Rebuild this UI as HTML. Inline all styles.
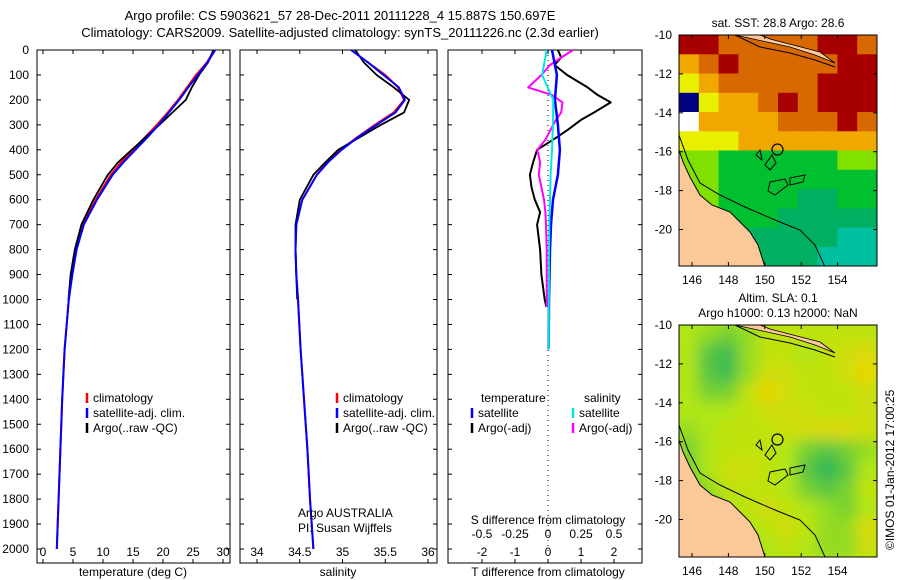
<!DOCTYPE html>
<html><head><meta charset="utf-8"><style>
html,body{margin:0;padding:0;background:#fff;}
svg{display:block;font-family:"Liberation Sans",sans-serif;}
</style></head><body>
<svg id="fig" width="900" height="580" viewBox="0 0 900 580" xmlns="http://www.w3.org/2000/svg">
<defs>
<clipPath id="clipTop"><rect x="679" y="35" width="198" height="231"/></clipPath>
<clipPath id="clipBot"><rect x="679" y="325" width="198" height="232"/></clipPath>
<filter id="blur" x="-5%" y="-5%" width="110%" height="110%"><feGaussianBlur stdDeviation="7"/></filter>
</defs>
<text x="340" y="20" font-size="13" text-anchor="middle">Argo profile: CS 5903621_57 28-Dec-2011 20111228_4 15.887S 150.697E</text>
<text x="340" y="37" font-size="13" text-anchor="middle">Climatology: CARS2009. Satellite-adjusted climatology: synTS_20111226.nc (2.3d earlier)</text>
<g id="g1"></g>
<g id="g2"></g>
<g id="g3"></g>
<g id="m1"></g>
<g id="m2"></g>
<text transform="translate(894,550) rotate(-90)" font-size="12">©IMOS 01-Jan-2012 17:00:25</text>
</svg>
<script>
// ---- data ----
const depths = [0,50,100,150,200,250,300,350,400,450,500,600,700,800,900,1000,1200,1400,1600,1800,2000];
const climTemp = [28.6,27.3,25.5,24,22.5,20.8,19,17,15,13,11.3,8.8,6.6,5.5,4.8,4.3,3.6,3.2,2.9,2.6,2.3];
const satTemp = [28.7,27.4,25.8,24.2,22.7,21,19.3,17.4,15.4,13.4,11.6,9.0,6.8,5.6,4.9,4.3,3.6,3.2,2.9,2.6,2.3];
const argoDepths = [0,50,100,150,200,250,300,350,400,450,500,600,700,800,900,1000];
const argoTemp = [28.4,27.5,26,24.8,23.8,21.6,19.4,17.1,14.8,12.5,10.8,8.4,6.4,5.3,4.6,4.25];
const climSal = [35.1,35.3,35.5,35.65,35.72,35.6,35.38,35.17,34.98,34.82,34.7,34.53,34.46,34.45,34.46,34.48,34.51,34.55,34.59,34.62,34.66];
const satSal = [35.1,35.3,35.48,35.66,35.73,35.62,35.4,35.18,34.99,34.83,34.7,34.53,34.46,34.45,34.46,34.48,34.51,34.55,34.59,34.62,34.66];
const argoSal = [35.15,35.25,35.4,35.6,35.78,35.72,35.45,35.2,34.95,34.8,34.66,34.5,34.45,34.45,34.46,34.47];
const diffDepths = [0,30,60,100,150,180,210,250,280,320,360,400,450,500,550,600,650,700,800,900,1000,1030];
const argoTdiff = [0.3,0.4,0.2,0.58,1.2,1.5,1.9,1.4,1.0,0.6,0.15,-0.33,-0.45,-0.55,-0.5,-0.4,-0.24,-0.33,-0.24,-0.2,-0.1,-0.05];
const argoSdiff = [0.19,0.1,0.015,-0.05,-0.15,0.03,0.11,0.1,0.06,0.02,-0.02,-0.08,-0.06,-0.07,-0.05,-0.03,-0.02,-0.015,-0.01,-0.01,-0.01,-0.01];
const satDiffDepths = [0,100,200,300,400,500,600,700,800,1000,1200];
const satTdiff = [0.12,0.27,0.21,0.3,0.36,0.3,0.15,0.09,0.06,0.03,0.02];
const satSdiff = [-0.01,-0.045,0.04,0.038,0.03,0.02,0.015,0.01,0.008,0.006,0.006];
const depthTicks = [0,100,200,300,400,500,600,700,800,900,1000,1100,1200,1300,1400,1500,1600,1700,1800,1900,2000];
const tempTicks = [0,5,10,15,20,25,30];
const salTicks = [34,34.5,35,35.5,36];
const tdTicks = [-2,-1,0,1,2];
const sdTicks = [-0.5,-0.25,0,0.25,0.5];
const sstGrid = [
 [5,5,4,4,4,4,4,5,5,4],
 [3,4,5,4,4,4,4,4,5,5],
 [2,3,4,4,4,4,4,5,5,5],
 [-1,2,3,3,4,5,4,5,5,5],
 [-2,3,3,3,3,4,4,4,5,4],
 [2,2,2,3,3,3,3,3,3,3],
 [1.5,1.5,1,1,1,1,1,1,1.5,1.5],
 [1.5,1.5,1.2,1,1,1,1,1,1,1],
 [1.5,1.5,1,1,1,1,0.9,0.9,1,1],
 [1,1,1,1,1,0.8,0.8,0.6,0.6,0.6],
 [1,1,1,0.8,0.8,0.7,0.6,0.5,0.4,0.3],
 [1,1,1,0.7,0.7,0.6,0.5,0.4,0.3,0.2]];
const slaGrid = [
 [.5,.4,.3,.4,.6,.6,.6,.6,.6,.6],
 [.5,.2,.1,.4,.6,.6,.5,.6,.7,.8],
 [.5,.2,.1,.4,.7,.7,.6,.6,.7,.9],
 [.5,.3,.3,.6,.9,.7,.6,.6,.6,.7],
 [.5,.5,.5,.6,.7,.7,.7,.6,.6,.7],
 [.4,.5,.6,.6,.6,.7,.7,.8,.8,.7],
 [.3,.5,.6,.6,.6,.5,.3,.2,.3,.4],
 [.3,.5,.7,.7,.6,.5,.2,.05,.2,.5],
 [.3,.4,.6,.6,.6,.5,.3,.2,.3,.6],
 [.3,.3,.5,.6,.7,.6,.5,.4,.3,.5],
 [.3,.3,.4,.5,.6,.7,.6,.4,.4,.8],
 [.3,.3,.3,.4,.5,.6,.5,.4,.4,.7]];
const lonTicks = [146,148,150,152,154];
const latTicks = [-10,-12,-14,-16,-18,-20];
const argoLon = 150.697, argoLat = -15.887;

// ---- scales ----
const NS = "http://www.w3.org/2000/svg";
const yD = d => 50 + d*0.2495;
const xT = t => 43 + 6*t;
const xS = s => 257 + 85.5*(s-34);
const xTd = v => 548 + 33*v;
const xSd = v => 548 + 132*v;
const lonX = lo => 692 + (lo-146)*18.2;
const latY = (la, off) => 35 + off + (-10-la)*19.45;

function mk(parent, tag, attrs, text){
  const e = document.createElementNS(NS, tag);
  for (const k in attrs) e.setAttribute(k, attrs[k]);
  if (text !== undefined) e.textContent = text;
  parent.appendChild(e); return e;
}
function line(g, xs, ds, xf, color, w, name){
  const pts = xs.map((v,i)=> xf(v).toFixed(1)+","+yD(ds[i]).toFixed(1)).join(" ");
  const p = mk(g,"polyline",{points:pts,fill:"none",stroke:color,"stroke-width":w,"stroke-linejoin":"round"});
  
  
}
function frame(g, x0, x1, name){
  const r = mk(g,"rect",{x:x0,y:50,width:x1-x0,height:513,fill:"none",stroke:"#000","stroke-width":1});
  
  
}
function xticks(g, ticks, xf, labels, yl){
  ticks.forEach((t,i)=>{
    const x = xf(t);
    mk(g,"line",{x1:x,x2:x,y1:50,y2:54,stroke:"#000"});
    mk(g,"line",{x1:x,x2:x,y1:563,y2:559,stroke:"#000"});
    const tl = mk(g,"text",{x:x,y:yl,"font-size":12,"text-anchor":"middle"}, labels ? labels[i] : String(t));
    
    
  });
}
function legend(g, x, y, items){
  items.forEach((it,i)=>{
    const yy = y + i*15;
    mk(g,"line",{x1:x,x2:x,y1:yy-9,y2:yy+1,stroke:it[0],"stroke-width":2.5});
    const t = mk(g,"text",{x:x+6,y:yy,"font-size":12}, it[1]);
    
    
  });
}

// Panel 1
const g1 = document.getElementById("g1");
frame(g1, 37, 230, "temperature-axes");
depthTicks.forEach(d=>{
  const y = yD(d);
  [[37,41],[230,226],[240,244],[437,433],[448,452],[642,638]].forEach(p=>mk(g1,"line",{x1:p[0],x2:p[1],y1:y,y2:y,stroke:"#000"}));
  const t = mk(g1,"text",{x:29,y:y+4,"font-size":12,"text-anchor":"end"}, String(d));
  
  
});
xticks(g1, tempTicks, xT, null, 556);
line(g1, climTemp, depths, xT, "#ff0000", 2, "climatology-temp-line");
line(g1, argoTemp, argoDepths, xT, "#000", 1.8, "argo-temp-line");
line(g1, satTemp, depths, xT, "#0000ff", 2, "satellite-temp-line");
legend(g1, 87, 402, [["#ff0000","climatology"],["#0000ff","satellite-adj. clim."],["#000","Argo(..raw -QC)"]]);
let t1 = mk(g1,"text",{x:133,y:576,"font-size":12,"text-anchor":"middle"},"temperature (deg C)");
 

// Panel 2
const g2 = document.getElementById("g2");
frame(g2, 240, 437, "salinity-axes");
xticks(g2, salTicks, xS, null, 556);
line(g2, climSal, depths, xS, "#ff0000", 2, "climatology-sal-line");
line(g2, argoSal, argoDepths, xS, "#000", 1.8, "argo-sal-line");
line(g2, satSal, depths, xS, "#0000ff", 2, "satellite-sal-line");
legend(g2, 337, 402, [["#ff0000","climatology"],["#0000ff","satellite-adj. clim."],["#000","Argo(..raw -QC)"]]);
let t2a = mk(g2,"text",{x:298,y:517,"font-size":12},"Argo AUSTRALIA");  
let t2b = mk(g2,"text",{x:298,y:532,"font-size":12},"PI: Susan Wijffels");  
let t2 = mk(g2,"text",{x:338,y:576,"font-size":12,"text-anchor":"middle"},"salinity");
 

// Panel 3
const g3 = document.getElementById("g3");
frame(g3, 448, 642, "difference-axes");
mk(g3,"line",{x1:548,x2:548,y1:50,y2:563,stroke:"#000","stroke-dasharray":"1,4"});
xticks(g3, tdTicks, xTd, null, 556);
sdTicks.forEach(t=>{
  const tl = mk(g3,"text",{x:xSd(t),y:538,"font-size":12,"text-anchor":"middle"}, String(t));
   
});
line(g3, argoTdiff, diffDepths, xTd, "#000", 2, "argo-t-diff-line");
line(g3, argoSdiff, diffDepths, xSd, "#ff00ff", 2, "argo-s-diff-line");
line(g3, satTdiff, satDiffDepths, xTd, "#0000ff", 2.5, "satellite-t-diff-line");
line(g3, satSdiff, satDiffDepths, xSd, "#00e5e5", 2, "satellite-s-diff-line");
let lt = mk(g3,"text",{x:481,y:402,"font-size":12},"temperature");  
let ls = mk(g3,"text",{x:584,y:402,"font-size":12},"salinity");  
legend(g3, 472, 417, [["#0000ff","satellite"],["#000","Argo(-adj)"]]);
legend(g3, 573, 417, [["#00e5e5","satellite"],["#ff00ff","Argo(-adj)"]]);
let s3 = mk(g3,"text",{x:548,y:524,"font-size":12,"text-anchor":"middle"},"S difference from climatology");  
let t3 = mk(g3,"text",{x:548,y:576,"font-size":12,"text-anchor":"middle"},"T difference from climatology");  

// Maps
function sstColor(v){
  if (v === -1) return "#000080";
  if (v === -2) return "#ffffff";
  if (v < 1) { return v < 0.5 ? "#00c0a0" : "#00b060"; }
  if (v < 1.3) return "#00c030";
  if (v < 1.8) return "#80e000";
  if (v < 2.5) return "#e8f000";
  if (v < 3.5) return "#f0a800";
  if (v < 4.5) return "#d86800";
  return "#a80000";
}
function slaColor(v){
  const a=[32,176,96], b=[176,230,20], c=[250,210,0];
  let p,q,f;
  if (v<0.5){p=a;q=b;f=v/0.5;} else {p=b;q=c;f=(v-0.5)/0.5;}
  return "rgb("+p.map((x,i)=>Math.round(x+(q[i]-x)*f)).join(",")+")";
}
function drawMap(id, grid, colorFn, off, clip, blur, title1, title2){
  const g = document.getElementById(id);
  const x0=679, w=198, h = clip==="clipBot"?232:231, y0=35+off;
  const cg = mk(g,"g",{"clip-path":"url(#"+clip+")"});
  const inner = mk(cg,"g", blur?{filter:"url(#blur)"}:{});
  const cw = w/grid[0].length, ch = h/grid.length;
  if (blur){ mk(inner,"rect",{x:x0-30,y:y0-30,width:w+60,height:h+60,fill:colorFn(0.5)}); }
  grid.forEach((row,r)=>row.forEach((v,c)=>{
    const cell = mk(inner,"rect",{x:(x0+c*cw-(blur?1:0)).toFixed(1),y:(y0+r*ch-(blur?1:0)).toFixed(1),width:(cw+(blur?2:0.6)).toFixed(1),height:(ch+(blur?2:0.6)).toFixed(1),fill:colorFn(v)});
    
    
  }));
  const land = mk(cg,"polygon",{points:[[679,y0+115],[683,y0+127],[690,y0+142],[700,y0+160],[712,y0+170],[730,y0+177],[740,y0+187],[750,y0+197],[758,y0+210],[765,y0+232],[679,y0+232]].map(p=>p.join(",")).join(" "),fill:"#fbc898",stroke:"#000","stroke-width":1});
   
  mk(cg,"polyline",{points:[[679,y0+100],[688,y0+125],[700,y0+148],[720,y0+160],[745,y0+172],[775,y0+185],[800,y0+195],[815,y0+210],[825,y0+232]].map(p=>p.join(",")).join(" "),fill:"none",stroke:"#000","stroke-width":1});
  mk(cg,"polyline",{points:[[735,y0],[760,y0+12],[790,y0+18],[815,y0+25],[835,y0+32]].map(p=>p.join(",")).join(" "),fill:"none",stroke:"#000","stroke-width":1});
  mk(cg,"polygon",{points:[[735,y0],[790,y0+12],[815,y0+20],[835,y0+28],[820,y0+17],[770,y0+4],[760,y0]].map(p=>p.join(",")).join(" "),fill:"#fbc898",stroke:"#000","stroke-width":0.8});
  [[[772,y0+120],[776,y0+128],[770,y0+135],[765,y0+130]],[[770,y0+147],[785,y0+144],[788,y0+150],[775,y0+160],[768,y0+156]],[[790,y0+143],[805,y0+140],[803,y0+147],[790,y0+150]],[[756,y0+120],[760,y0+115],[762,y0+125]]].forEach(poly=>{
    const r = mk(cg,"polygon",{points:poly.map(p=>p.join(",")).join(" "),fill:"none",stroke:"#000","stroke-width":1});
     
  });
  mk(g,"rect",{x:x0,y:y0,width:w,height:h,fill:"none",stroke:"#000"});
  const ac = mk(g,"circle",{cx:lonX(argoLon),cy:latY(argoLat,off),r:5.5,fill:"none",stroke:"#000","stroke-width":1.2});
   
  lonTicks.forEach(lo=>{
    const x=lonX(lo);
    mk(g,"line",{x1:x,x2:x,y1:y0,y2:y0+4,stroke:"#000"});
    mk(g,"line",{x1:x,x2:x,y1:y0+h,y2:y0+h-4,stroke:"#000"});
    const t = mk(g,"text",{x:x,y:y0+h+18,"font-size":12,"text-anchor":"middle"},String(lo));
     
  });
  latTicks.forEach(la=>{
    const y=latY(la,off);
    mk(g,"line",{x1:x0,x2:x0+4,y1:y,y2:y,stroke:"#000"});
    mk(g,"line",{x1:x0+w,x2:x0+w-4,y1:y,y2:y,stroke:"#000"});
    const t = mk(g,"text",{x:672,y:y+4,"font-size":12,"text-anchor":"end"},String(la));
     
  });
  const tt = mk(g,"text",{x:778,y:title2?y0-23:y0-8,"font-size":12,"text-anchor":"middle"},title1);
   
  if (title2){ const t2 = mk(g,"text",{x:778,y:y0-8,"font-size":12,"text-anchor":"middle"},title2);   }
}
drawMap("m1", sstGrid, sstColor, 0, "clipTop", false, "sat. SST: 28.8 Argo: 28.6");
drawMap("m2", slaGrid, slaColor, 290, "clipBot", true, "Altim. SLA: 0.1", "Argo h1000: 0.13 h2000: NaN");
</script>
</body></html>
